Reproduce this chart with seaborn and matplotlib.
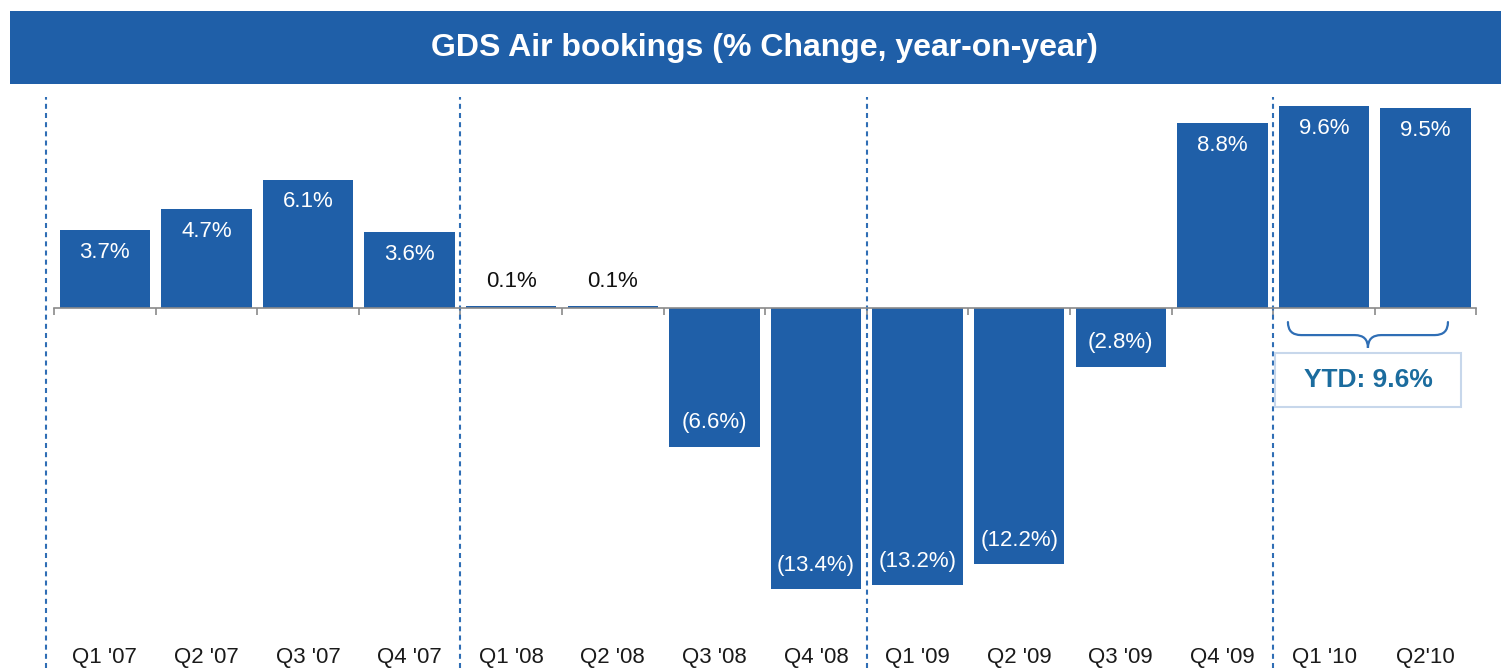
import numpy as np
import pandas as pd
import matplotlib
matplotlib.use("Agg")
import matplotlib.pyplot as plt
import matplotlib.transforms as mtransforms
from matplotlib.patches import Rectangle, PathPatch
from matplotlib.path import Path
import seaborn as sns

# ---------------- data ----------------
quarters = ["Q1 '07", "Q2 '07", "Q3 '07", "Q4 '07",
            "Q1 '08", "Q2 '08", "Q3 '08", "Q4 '08",
            "Q1 '09", "Q2 '09", "Q3 '09", "Q4 '09",
            "Q1 '10", "Q2'10"]
changes = [3.7, 4.7, 6.1, 3.6,
           0.1, 0.1, -6.6, -13.4,
           -13.2, -12.2, -2.8, 8.8,
           9.6, 9.5]
year_breaks = [-0.58, 3.5, 7.5, 11.5]
ytd_label = "YTD: 9.6%"
title = "GDS Air bookings (% Change, year-on-year)"

BLUE = "#1F5FA8"
DASH_BLUE = "#2F6EB5"
YTD_COLOR = "#1B6C9E"
AXIS_GRAY = "#8a8a8a"

sns.set_theme(style="white")
plt.rcParams["font.family"] = ["Liberation Sans", "DejaVu Sans"]

W, H = 1501, 668
fig = plt.figure(figsize=(W / 100, H / 100), dpi=100)
ax = fig.add_axes([0, 0, 1, 1 - 95 / H])

df = pd.DataFrame({"quarter": quarters, "change": changes})
sns.barplot(data=df, x="quarter", y="change", color=BLUE, saturation=1,
            width=0.89, linewidth=0, errorbar=None, ax=ax, zorder=2)

# scales: 101.6 px per category, 21 px per percentage point
ax.set_xlim(-0.5 - 54 / 101.6, -0.5 + (W - 54) / 101.6)
ax.set_ylim(-(H - 308) / 21, (308 - 95) / 21)

for s in ["left", "right", "top"]:
    ax.spines[s].set_visible(False)
ax.spines["bottom"].set_position(("data", 0))
ax.spines["bottom"].set_bounds(-0.5, len(quarters) - 0.5)
ax.spines["bottom"].set_color(AXIS_GRAY)
ax.spines["bottom"].set_linewidth(1.2)
ax.spines["bottom"].set_zorder(3)
ax.set_xticks([])
ax.set_xticks(np.arange(len(quarters) + 1) - 0.5, minor=True)
ax.tick_params(axis="x", which="minor", direction="out", length=5,
               width=1.2, color=AXIS_GRAY, bottom=True, labelbottom=False)
ax.set_yticks([])
ax.set_xlabel("")
ax.set_ylabel("")

# value labels
for i, v in enumerate(changes):
    txt = f"{v:.1f}%" if v >= 0 else f"({abs(v):.1f}%)"
    if abs(v) < 1:
        y, c = v + 1.15, "#111111"
    elif v > 0:
        y, c = v - 1.05, "white"
    else:
        y, c = v + 1.15, "white"
    ax.text(i, y, txt, ha="center", va="center", fontsize=16, color=c, zorder=4)

# category labels near bottom
trans = mtransforms.blended_transform_factory(ax.transData, ax.transAxes)
for i, q in enumerate(quarters):
    ax.text(i, 10 / 573, q, transform=trans, ha="center", va="center",
            fontsize=16, color="#1a1a1a")

# dashed year separators
for xb in year_breaks:
    ax.axvline(xb, ymin=0, ymax=(H - 97) / 573, color=DASH_BLUE, lw=1.5,
               ls=(0, (2.4, 2.0)), zorder=1)

# curly brace under Q1'10 / Q2'10
xl, xr = 11.645, 13.22
xc = (xl + xr) / 2
ytop, ymid, ytip = -0.67, -1.29, -1.90
d = 0.13
verts = [(xl, ytop), (xl, ymid), (xl + d, ymid),
         (xc - d, ymid), (xc, ymid), (xc, ytip),
         (xc, ymid), (xc + d, ymid),
         (xr - d, ymid), (xr, ymid), (xr, ytop)]
codes = [Path.MOVETO, Path.CURVE3, Path.CURVE3,
         Path.LINETO, Path.CURVE3, Path.CURVE3,
         Path.CURVE3, Path.CURVE3,
         Path.LINETO, Path.CURVE3, Path.CURVE3]
ax.add_patch(PathPatch(Path(verts, codes), fill=False, edgecolor=DASH_BLUE,
                       lw=1.6, capstyle="round", zorder=3))

# YTD box
bx0, bx1 = 11.518, 13.348
by0, by1 = -4.71, -2.14
ax.add_patch(Rectangle((bx0, by0), bx1 - bx0, by1 - by0, facecolor="white",
                       edgecolor="#C7D7EB", lw=1.5, zorder=3))
ax.text((bx0 + bx1) / 2, (by0 + by1) / 2, ytd_label, ha="center", va="center",
        fontsize=19, fontweight="bold", color=YTD_COLOR, zorder=4)

# title banner
fig.add_artist(Rectangle((10 / W, (H - 84) / H), 1 - 10 / W, 73 / H,
                         transform=fig.transFigure, facecolor=BLUE,
                         edgecolor="none"))
fig.text(764 / W, (H - 48) / H, title, ha="center", va="center",
         fontsize=23, fontweight="bold", color="white")

fig.savefig("out.png", dpi=100)
